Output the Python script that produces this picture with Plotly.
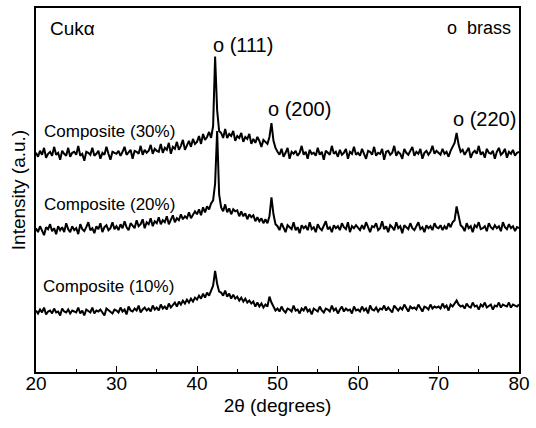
import plotly.graph_objects as go

# 2-theta grid (degrees), 0.25 step from 20 to 80
two_theta = [20 + 0.25 * i for i in range(241)]

# Intensity (a.u., offset stacked)
comp30 = [
    221,217,223,219,226,216,220,222,218,227,219,221,214,223,220,218,226,217,221,222,
    219,228,218,220,213,222,221,219,226,218,220,223,215,221,219,227,220,214,222,221,
    220,223,218,222,227,219,221,224,215,223,222,220,228,219,224,221,223,229,220,225,
    223,222,230,221,226,224,231,220,227,225,232,224,228,234,224,229,233,227,235,230,
    232,238,230,240,234,237,242,236,
    248,318,264,243,
    241,236,245,236,240,238,243,233,
    238,236,241,232,237,235,240,230,
    235,231,237,233,227,234,232,230,
    237,251,233,226,
    222,219,225,217,221,226,215,222,220,223,218,221,228,219,222,215,224,220,221,218,
    226,219,222,214,223,221,219,228,220,222,217,224,219,221,225,215,222,220,227,219,
    221,218,225,220,215,223,222,219,227,218,221,220,225,214,222,223,219,221,228,218,
    222,220,215,225,221,219,223,227,218,222,220,225,215,221,223,219,222,228,220,223,
    221,219,225,220,222,217,223,227,
    231,241,229,222,
    224,219,222,226,216,221,223,220,228,219,222,216,225,221,220,223,215,222,226,219,221,225,216,222,220,224,218,221,222,
]

comp20 = [
    145,141,147,143,138,146,144,149,142,145,139,147,143,146,141,150,144,141,147,143,
    145,139,149,144,142,146,151,143,145,140,147,144,150,141,146,148,143,145,151,144,
    147,143,149,145,152,146,143,150,148,145,153,147,149,154,145,151,149,155,147,152,
    150,156,149,153,151,157,149,154,158,151,155,153,159,154,157,155,161,155,158,162,
    159,164,158,166,161,167,164,170,
    173,190,243,179,
    166,162,169,161,165,159,164,162,
    163,157,162,157,160,154,159,156,
    158,152,156,152,155,150,154,150,
    157,176,159,149,
    147,143,150,145,141,148,146,144,151,143,146,140,148,145,147,143,151,144,146,141,
    149,145,143,147,152,144,146,141,148,145,147,143,150,146,144,151,141,147,145,148,
    146,143,148,144,151,145,141,147,146,150,143,145,152,144,147,141,148,146,143,151,
    145,147,140,148,146,144,150,145,143,147,151,144,146,141,148,145,147,143,150,146,
    145,148,143,147,144,150,146,151,
    153,167,157,148,
    146,142,150,145,147,141,148,146,151,144,145,147,142,150,146,144,148,145,147,142,151,146,144,149,145,147,142,146,145,
]

comp10 = [
    62,59,63,60,65,58,61,62,59,64,60,61,57,64,61,60,63,59,62,61,
    60,65,59,62,57,63,61,60,65,59,62,61,63,60,57,64,62,61,59,63,
    62,60,65,61,63,58,66,62,61,64,62,67,60,63,65,62,64,61,67,63,
    65,62,68,64,66,63,69,65,67,70,66,71,68,72,69,73,70,74,71,75,
    73,77,74,79,75,80,77,82,
    87,102,89,81,
    80,77,82,76,79,74,78,74,
    76,72,75,71,74,70,72,69,
    71,66,70,66,69,65,68,66,
    76,70,65,62,
    64,61,66,62,60,64,63,61,67,62,63,59,64,62,66,61,63,58,64,62,
    61,66,62,60,64,63,61,67,62,64,59,63,66,61,64,62,63,59,66,62,
    63,61,66,62,64,59,67,63,62,65,61,64,63,67,62,65,63,60,67,64,
    62,65,63,68,64,61,66,64,65,63,68,64,61,66,65,63,68,64,66,65,
    66,64,69,65,67,62,68,66,
    69,72,68,66,
    67,64,69,66,65,70,66,67,63,68,66,70,65,67,68,63,67,66,70,65,68,67,66,70,65,68,67,66,68,
]

series = [("Composite (30%)", comp30), ("Composite (20%)", comp20), ("Composite (10%)", comp10)]

x_ticks = [20, 30, 40, 50, 60, 70, 80]

FONT = "Arial, Liberation Sans, sans-serif"

fig = go.Figure()
for name, vals in series:
    fig.add_trace(go.Scatter(x=two_theta, y=vals, mode="lines", name=name,
                             line=dict(color="black", width=2), showlegend=False))

def ann(text, x, y, size=16, xanchor="left"):
    fig.add_annotation(text=text, x=x, y=y, xref="x", yref="y", showarrow=False,
                       xanchor=xanchor, yanchor="middle",
                       font=dict(family=FONT, size=size, color="black"))

ann("Cukα", 21.5, 346, size=19)
ann("o (111)", 41.8, 330, size=20)
ann("o&nbsp; brass", 70.8, 347, size=18)
ann("o (200)", 48.6, 265, size=20)
ann("o (220)", 71.6, 255, size=20)
ann("Composite (30%)", 20.8, 242, size=17)
ann("Composite (20%)", 20.8, 169, size=17)
ann("Composite (10%)", 20.6, 86, size=17)

fig.update_layout(
    width=536, height=428,
    margin=dict(l=36, r=11, t=6, b=56),
    paper_bgcolor="white", plot_bgcolor="white",
    font=dict(family=FONT, size=19, color="black"),
    xaxis=dict(range=[20, 80], tickvals=x_ticks, ticks="inside", ticklen=6, tickwidth=1.2,
               tickcolor="black", showline=True, linecolor="black", linewidth=1.5, mirror=True,
               showgrid=False, zeroline=False, ticklabelstandoff=-7,
               minor=dict(dtick=5, ticks="inside", ticklen=3, tickcolor="black", tickwidth=1),
               title=dict(text="2θ (degrees)", font=dict(size=19), standoff=6),
               tickfont=dict(size=19)),
    yaxis=dict(range=[0, 367], showticklabels=False, ticks="", showline=True, linecolor="black",
               linewidth=1.5, mirror=True, showgrid=False, zeroline=False,
               title=dict(text="Intensity (a.u.)", font=dict(size=19), standoff=4)),
)

fig.write_html("out.html")
